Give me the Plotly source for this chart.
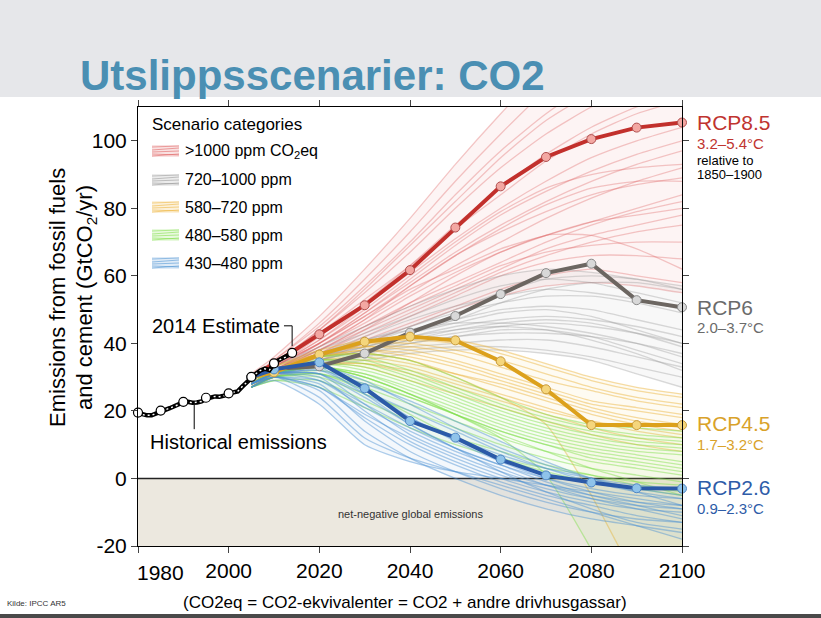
import plotly.graph_objects as go

# ---------------- data ----------------
YEARS = [2005, 2010, 2020, 2030, 2040, 2050, 2060, 2070, 2080, 2090, 2100]

HIST_YEARS = list(range(1980, 2015))
HIST_VALUES = [19.4, 18.9, 18.7, 18.7, 19.3, 20.0, 20.3, 20.8, 21.5, 21.9,
               22.6, 22.7, 22.4, 22.5, 22.8, 23.6, 24.1, 24.3, 24.2, 24.5,
               25.2, 25.5, 25.8, 27.2, 28.5, 30.0, 31.0, 32.0, 32.5, 32.1,
               34.0, 35.0, 35.6, 36.2, 37.1]
HIST_MARK_YEARS = [1980, 1985, 1990, 1995, 2000, 2005, 2010, 2014]
HIST_MARK_VALUES = [19.5, 20.1, 22.7, 23.9, 25.2, 30.1, 34.1, 37.2]

RCP85 = [30.0, 34.0, 42.7, 51.3, 61.7, 74.3, 86.5, 95.2, 100.5, 103.9, 105.4]
RCP6 = [30.0, 32.5, 33.2, 37.0, 43.2, 48.1, 54.6, 60.8, 63.6, 52.8, 50.7]
RCP45 = [30.0, 31.4, 36.7, 40.5, 42.0, 40.9, 34.7, 26.4, 15.8, 15.8, 15.8]
RCP26 = [30.0, 32.3, 34.4, 26.7, 17.0, 12.1, 5.6, 0.9, -1.2, -2.9, -3.0]

RED_LINES = [
    [31, 36, 48, 62, 77, 93, 108, 122, 135, 145, 150],
    [30, 35, 46, 59, 73, 88, 102, 115, 126, 133, 138],
    [30, 35, 45, 57, 70, 84, 97, 108, 117, 123, 127],
    [30, 34, 44, 56, 69, 82, 95, 106, 114, 119, 122],
    [30, 34, 44, 55, 67, 80, 92, 102, 110, 116, 120],
    [29, 34, 43, 53, 63, 74, 84, 94, 102, 108, 112],
    [29, 33, 42, 52, 63, 75, 86, 96, 104, 110, 114],
    [29, 33, 41, 51, 61, 71, 80, 88, 95, 100, 104],
    [29, 33, 41, 50, 60, 70, 79, 86, 90, 92, 93],
    [28, 32, 40, 49, 59, 69, 78, 85, 91, 96, 100],
    [29, 33, 40, 49, 58, 67, 75, 82, 88, 93, 97],
    [29, 33, 40, 48, 57, 66, 74, 81, 86, 88, 88],
    [28, 32, 39, 47, 55, 63, 70, 77, 83, 88, 92],
    [28, 32, 39, 47, 57, 66, 73, 79, 84, 87, 89],
    [29, 33, 40, 48, 56, 62, 68, 72, 76, 80, 84],
    [28, 32, 38, 45, 52, 58, 64, 70, 75, 79, 82],
    [28, 32, 39, 46, 54, 61, 67, 72, 76, 78, 80],
    [28, 32, 38, 44, 50, 56, 62, 68, 72, 75, 78],
    [28, 31, 37, 43, 49, 55, 61, 66, 70, 73, 75],
    [28, 32, 38, 45, 51, 57, 63, 67, 69, 70, 70],
    [27, 31, 36, 42, 48, 54, 60, 64, 66, 66, 65],
    [28, 31, 37, 44, 52, 60, 67, 72, 72, 68, 62],
    [27, 31, 36, 41, 46, 51, 56, 60, 62, 60, 58],
    [27, 30, 35, 40, 45, 50, 54, 57, 58, 57, 55],
]
GRAY_LINES = [
    [29, 33, 39, 45, 51, 56, 60, 62, 61, 59, 57],
    [28, 32, 36, 40, 45, 50, 55, 59, 60, 59, 56],
    [29, 33, 38, 43, 48, 53, 57, 59, 58, 55, 52],
    [28, 32, 37, 42, 47, 51, 54, 56, 55, 53, 50],
    [28, 32, 37, 41, 45, 49, 52, 54, 54, 52, 49],
    [28, 32, 36, 40, 44, 47, 50, 51, 50, 47, 44],
    [28, 31, 36, 39, 42, 45, 47, 48, 47, 45, 42],
    [28, 31, 35, 39, 43, 46, 49, 50, 48, 44, 40],
    [27, 31, 35, 38, 41, 43, 45, 46, 45, 43, 40],
    [27, 31, 35, 38, 40, 42, 43, 43, 42, 40, 37],
    [28, 32, 37, 41, 44, 46, 46, 45, 43, 40, 36],
    [28, 32, 36, 39, 42, 44, 45, 44, 41, 37, 32],
    [27, 31, 34, 37, 40, 42, 44, 44, 42, 38, 34],
    [27, 31, 34, 37, 39, 40, 41, 41, 39, 36, 33],
    [27, 30, 34, 36, 38, 39, 39, 38, 36, 33, 30],
    [27, 30, 33, 35, 37, 38, 38, 37, 35, 31, 27],
    [28, 32, 37, 40, 43, 47, 52, 56, 58, 58, 56],
    [28, 31, 35, 38, 41, 44, 46, 47, 46, 43, 39],
]
YELLOW_LINES = [
    [29, 33, 38, 41, 42, 41, 38, 34, 30, 27, 25],
    [29, 33, 37, 40, 40, 38, 35, 31, 27, 24, 22],
    [28, 32, 37, 39, 39, 37, 33, 29, 26, 23, 21],
    [28, 32, 37, 39, 38, 35, 31, 27, 23, 21, 19],
    [28, 32, 36, 38, 37, 34, 30, 26, 22, 20, 18],
    [28, 32, 36, 38, 36, 33, 29, 25, 21, 18, 16],
    [28, 31, 35, 36, 34, 31, 28, 24, 20, 17, 15],
    [28, 32, 36, 37, 35, 31, 27, 23, 19, 16, 14],
    [27, 31, 34, 34, 32, 28, 24, 20, 17, 15, 13],
    [28, 31, 35, 35, 33, 29, 25, 21, 17, 14, 12],
    [28, 31, 34, 34, 31, 27, 23, 19, 15, 12, 10],
    [27, 31, 34, 33, 29, 25, 21, 17, 13, 10, 8],
    [28, 32, 37, 40, 41, 40, 37, 33, 29, 26, 24],
    [28, 32, 36, 37, 35, 30, 24, 16, -5, -30, -50],
]
GREEN_LINES = [
    [29, 32, 36, 36, 32, 27, 22, 18, 15, 13, 12],
    [28, 31, 35, 35, 31, 26, 21, 17, 14, 12, 11],
    [28, 32, 35, 34, 30, 25, 20, 16, 13, 11, 10],
    [28, 31, 34, 32, 28, 23, 18, 14, 11, 9, 8],
    [28, 31, 33, 31, 27, 22, 17, 13, 10, 8, 7],
    [28, 31, 33, 31, 26, 21, 16, 12, 9, 7, 5],
    [27, 30, 32, 29, 24, 19, 14, 10, 7, 5, 3],
    [27, 30, 31, 28, 24, 19, 14, 10, 6, 4, 2],
    [27, 30, 31, 27, 22, 17, 12, 8, 5, 3, 1],
    [27, 30, 30, 25, 20, 15, 10, 6, 3, 1, -1],
    [27, 29, 29, 23, 17, 12, 8, 4, 1, -2, -4],
    [27, 29, 27, 21, 15, 10, 6, 3, 1, -1, -2],
    [28, 31, 33, 30, 25, 19, 13, 8, 3, -1, -5],
    [28, 32, 36, 37, 35, 30, 24, 19, 16, 15, 14],
    [28, 31, 33, 30, 25, 20, 15, 11, 8, 6, 4],
    [27, 30, 31, 26, 19, 12, 6, 2, -1, -3, -5],
    [28, 31, 34, 33, 29, 24, 19, 15, 12, 10, 9],
    [28, 31, 33, 30, 25, 19, 12, 1, -21, -45, -60],
]
BLUE_LINES = [
    [29, 32, 34, 27, 18, 12, 7, 3, 0, -2, -3],
    [29, 32, 33, 25, 16, 9, 4, 0, -3, -5, -6],
    [28, 31, 31, 25, 18, 11, 5, 0, -4, -7, -9],
    [28, 31, 31, 22, 13, 7, 2, -2, -5, -7, -8],
    [28, 31, 30, 20, 11, 5, 0, -4, -7, -9, -10],
    [28, 30, 29, 22, 15, 9, 4, -1, -5, -8, -11],
    [28, 30, 28, 17, 8, 2, -3, -7, -10, -12, -13],
    [27, 30, 27, 18, 10, 4, -1, -5, -8, -11, -13],
    [27, 30, 26, 14, 6, 0, -5, -9, -12, -14, -16],
    [28, 31, 32, 26, 20, 14, 8, 3, -1, -4, -6],
    [28, 31, 33, 29, 22, 15, 9, 4, 0, -3, -5],
    [27, 30, 24, 12, 6, 2, -2, -6, -10, -14, -18],
    [28, 31, 29, 21, 14, 8, 3, -2, -6, -9, -12],
    [28, 31, 32, 28, 23, 17, 11, 5, 0, -4, -8],
    [27, 29, 22, 10, 5, 2, 0, -2, -4, -6, -8],
    [28, 30, 27, 19, 12, 6, 1, -3, -6, -8, -9],
    [28, 31, 31, 24, 16, 9, 2, -4, -9, -13, -15],
]

CATEGORY_LABELS = [">1000 ppm CO<sub>2</sub>eq", "720–1000 ppm", "580–720 ppm",
                   "480–580 ppm", "430–480 ppm"]
X_TICKS = [1980, 2000, 2020, 2040, 2060, 2080, 2100]
X_TICKTEXT = ["", "2000", "2020", "2040", "2060", "2080", "2100"]  # 1980 drawn offset below
Y_TICKS = [-20, 0, 20, 40, 60, 80, 100]
Y_TICKTEXT = ["-20", "0", "20", "40", "60", "80", "100"]

# ---------------- geometry helpers (pixel -> paper) ----------------
W, H = 821, 618
L, R, T, B = 138, 139, 107, 72
PW, PH = W - L - R, H - T - B


def px(x):
    return (x - L) / PW


def py(y):
    return (H - B - y) / PH


FONT = "Liberation Sans, Arial, Helvetica, sans-serif"

fig = go.Figure()

bundles = [
    (RED_LINES, "rgba(222,92,92,0.33)", "rgba(230,120,120,0.08)"),
    (GRAY_LINES, "rgba(150,150,150,0.35)", "rgba(170,170,170,0.08)"),
    (YELLOW_LINES, "rgba(236,178,55,0.45)", "rgba(240,200,90,0.08)"),
    (GREEN_LINES, "rgba(125,222,70,0.45)", "rgba(150,230,110,0.08)"),
    (BLUE_LINES, "rgba(75,145,210,0.45)", "rgba(110,170,220,0.08)"),
]

for lines, col, fillcol in bundles:
    lo = [min(v[i] for v in lines) for i in range(len(YEARS))]
    hi = [max(v[i] for v in lines) for i in range(len(YEARS))]
    fig.add_trace(go.Scatter(x=YEARS, y=hi, mode="lines", line=dict(width=0, shape="spline", smoothing=0.6),
                             hoverinfo="skip", showlegend=False))
    fig.add_trace(go.Scatter(x=YEARS, y=lo, mode="lines", line=dict(width=0, shape="spline", smoothing=0.6),
                             fill="tonexty", fillcolor=fillcol, hoverinfo="skip", showlegend=False))
    for v in lines:
        fig.add_trace(go.Scatter(x=YEARS, y=v, mode="lines",
                                 line=dict(color=col, width=1.3, shape="spline", smoothing=0.6),
                                 hoverinfo="skip", showlegend=False))

rcps = [
    (RCP6, "#6c6661", "#d8d8d8", "#8a8a8a"),
    (RCP85, "#c2302c", "#f3a7a2", "#b05050"),
    (RCP45, "#dca11c", "#f5d67c", "#c89a3a"),
    (RCP26, "#2b5aa8", "#8fc3ea", "#4f86c4"),
]
for vals, lc, mf, mo in rcps:
    fig.add_trace(go.Scatter(x=YEARS, y=vals, mode="lines+markers",
                             line=dict(color=lc, width=4),
                             marker=dict(size=9, color=mf, line=dict(color=mo, width=1)),
                             cliponaxis=False, hoverinfo="skip", showlegend=False))

# historical
fig.add_trace(go.Scatter(x=HIST_YEARS, y=HIST_VALUES, mode="lines",
                         line=dict(color="black", width=4.5), hoverinfo="skip", showlegend=False))
fig.add_trace(go.Scatter(x=HIST_YEARS, y=HIST_VALUES, mode="lines",
                         line=dict(color="white", width=1.4, dash="2px,3px"), hoverinfo="skip",
                         showlegend=False))
fig.add_trace(go.Scatter(x=HIST_MARK_YEARS, y=HIST_MARK_VALUES, mode="markers",
                         marker=dict(size=9, color="white", line=dict(color="black", width=1.2)),
                         cliponaxis=False, hoverinfo="skip", showlegend=False))

shapes = [
    # header band
    dict(type="rect", xref="paper", yref="paper", x0=px(0), x1=px(W), y0=py(97), y1=py(0),
         fillcolor="#e6e7ea", line=dict(width=0), layer="below"),
    # bottom bar
    dict(type="rect", xref="paper", yref="paper", x0=px(0), x1=px(W), y0=py(618), y1=py(614),
         fillcolor="#4a4a4a", line=dict(width=0), layer="below"),
    # net negative region
    dict(type="rect", xref="x domain", yref="y", x0=0, x1=1, y0=-20, y1=0,
         fillcolor="#ece8df", line=dict(width=0), layer="below"),
    dict(type="line", xref="x domain", yref="y", x0=0, x1=1, y0=0, y1=0,
         line=dict(color="#222222", width=1.5), layer="below"),
    # leaders
    dict(type="path", xref="x", yref="y", path="M 2012.2,45.2 L 2014,45.2 L 2014,39.2",
         line=dict(color="black", width=1)),
    dict(type="line", xref="x", yref="y", x0=1992.4, x1=1992.4, y0=21.8, y1=14.6,
         line=dict(color="black", width=1)),
]

# legend swatches
swatch_cols = ["rgba(222,92,92,", "rgba(150,150,150,", "rgba(236,178,55,",
               "rgba(125,222,70,", "rgba(75,145,210,"]
rows = [151, 180, 207, 235, 263]
for c, cy in zip(swatch_cols, rows):
    shapes.append(dict(type="rect", xref="paper", yref="paper", x0=px(152), x1=px(179),
                       y0=py(cy + 6), y1=py(cy - 6), fillcolor=c + "0.18)", line=dict(width=0)))
    for dy0, dy1 in [(-4, -5), (-1, -3), (1, 0), (3, 4), (5, 3)]:
        shapes.append(dict(type="line", xref="paper", yref="paper", x0=px(152), x1=px(179),
                           y0=py(cy + dy0), y1=py(cy + dy1), line=dict(color=c + "0.55)", width=1)))

ann = []


def txt(x, y, s, size, color="black", xanchor="left", bold=False, angle=0, family=FONT):
    ann.append(dict(x=px(x), y=py(y), xref="paper", yref="paper", text=("<b>%s</b>" % s) if bold else s,
                    showarrow=False, xanchor=xanchor, yanchor="middle", textangle=angle,
                    font=dict(size=size, color=color, family=family)))


txt(78, 75, "Utslippsscenarier: CO2", 42, "#4a8fb3", bold=True)
txt(57, 298, "Emissions from fossil fuels", 22, angle=-90, xanchor="center")
txt(86, 298, "and cement (GtCO<sub>2</sub>/yr)", 22, angle=-90, xanchor="center")
txt(150, 125, "Scenario categories", 17)
for lab, cy in zip(CATEGORY_LABELS, rows):
    txt(183, cy, lab, 16)
txt(150, 326, "2014 Estimate", 20)
txt(148, 442, "Historical emissions", 20)

txt(160, 572, str(X_TICKS[0]), 21, xanchor="center")

txt(695, 123, "RCP8.5", 21, "#c0342f")
txt(695, 143, "3.2–5.4°C", 15, "#c0342f")
txt(695, 160, "relative to", 13)
txt(695, 174, "1850–1900", 13)
txt(695, 307, "RCP6", 21, "#6b6b6b")
txt(695, 327, "2.0–3.7°C", 15, "#6b6b6b")
txt(695, 423, "RCP4.5", 21, "#d9a22a")
txt(695, 444, "1.7–3.2°C", 15, "#d9a22a")
txt(695, 487, "RCP2.6", 21, "#2e5ca8")
txt(695, 508, "0.9–2.3°C", 15, "#2e5ca8")

txt(5, 603, "Kilde: IPCC AR5", 8, "#333333")
txt(405, 602, "(CO2eq = CO2-ekvivalenter = CO2 + andre drivhusgassar)", 17, xanchor="center")

ann.append(dict(x=2040, y=-10.5, xref="x", yref="y", text="net-negative global emissions",
                showarrow=False, font=dict(size=11, color="#333333", family=FONT)))

fig.update_layout(
    width=W, height=H, margin=dict(l=L, r=R, t=T, b=B),
    paper_bgcolor="white", plot_bgcolor="white",
    showlegend=False, shapes=shapes, annotations=ann,
    font=dict(family=FONT, color="black"),
    xaxis=dict(range=[1980, 2100], tickvals=X_TICKS, ticktext=X_TICKTEXT, ticks="outside",
               ticklen=6, tickwidth=1,
               showline=True, linecolor="black", linewidth=1, mirror="ticks", showgrid=False,
               zeroline=False, tickfont=dict(size=21, family=FONT, color="black")),
    yaxis=dict(range=[-20, 110], tickvals=Y_TICKS, ticktext=Y_TICKTEXT, ticks="outside",
               ticklen=6, tickwidth=1,
               showline=True, linecolor="black", linewidth=1, mirror="ticks", showgrid=False,
               zeroline=False, tickfont=dict(size=21, family=FONT, color="black")),
)

fig.write_html("out.html", config={"displayModeBar": False},
               post_script="document.body.style.margin='0px';document.body.style.overflow='hidden';")
